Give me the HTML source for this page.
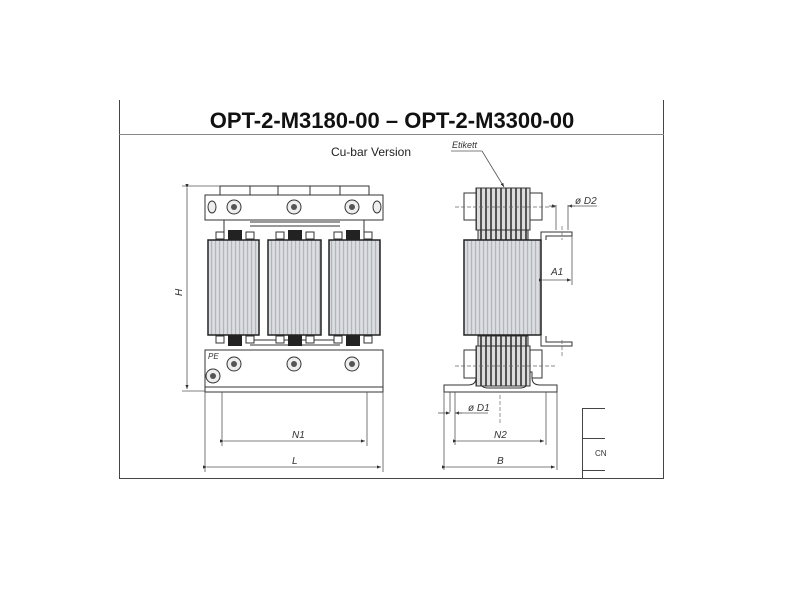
<!DOCTYPE html>
<html><head><style>
html,body{margin:0;padding:0;background:#fff;}
svg{display:block;}
text{font-family:"Liberation Sans",sans-serif;}
</style></head><body>
<svg width="800" height="600" viewBox="0 0 800 600" xmlns="http://www.w3.org/2000/svg">
<defs>
<linearGradient id="cg" x1="0" x2="1" y1="0" y2="0">
<stop offset="0" stop-color="#a9aeb5"/><stop offset="0.15" stop-color="#dcdee1"/><stop offset="0.35" stop-color="#c2c6cb"/><stop offset="0.55" stop-color="#e6e7e9"/><stop offset="0.75" stop-color="#bec2c7"/><stop offset="1" stop-color="#a5aab1"/>
</linearGradient>
<pattern id="st" width="4" height="10" patternUnits="userSpaceOnUse"><rect width="4" height="10" fill="url(#cg)"/><line x1="1" y1="0" x2="1" y2="10" stroke="#f0f1f2" stroke-width="0.8"/></pattern>
<pattern id="pk" width="5" height="10" patternUnits="userSpaceOnUse"><rect width="5" height="10" fill="#dcdcdc"/><rect x="0" width="2" height="10" fill="#555"/></pattern>
<marker id="a" markerWidth="6" markerHeight="6" refX="5" refY="3" orient="auto"><path d="M0,1 L5,3 L0,5z" fill="#333"/></marker>
</defs>
<g stroke="#444" fill="none">
<line x1="119.5" y1="100" x2="119.5" y2="478"/>
<line x1="663.5" y1="100" x2="663.5" y2="478"/>
<line x1="119" y1="134.5" x2="664" y2="134.5" stroke="#888"/>
<line x1="119" y1="478.5" x2="664" y2="478.5"/>
</g>
<text x="392" y="128" font-size="22" font-weight="bold" text-anchor="middle" fill="#111">OPT-2-M3180-00 – OPT-2-M3300-00</text>
<text x="371" y="156" font-size="12" text-anchor="middle" fill="#222">Cu-bar Version</text>

<g stroke="#333" stroke-width="1" fill="#fff">
<path d="M220,196 V186 H369 V196 M250,186 V196 M278,186 V196 M310,186 V196 M340,186 V196" fill="none"/>
<rect x="205" y="195" width="178" height="25"/>
<rect x="205" y="350" width="178" height="37"/>
<rect x="205" y="387" width="178" height="5"/>
<line x1="224" y1="220" x2="224" y2="240"/><line x1="364" y1="220" x2="364" y2="240"/>
<line x1="250" y1="222" x2="340" y2="222"/><line x1="250" y1="226" x2="340" y2="226"/>
<line x1="250" y1="340" x2="340" y2="340"/><line x1="250" y1="345" x2="340" y2="345"/>
</g>
<g stroke="#222" stroke-width="1.5">
<rect x="208" y="240" width="51" height="95" fill="url(#st)"/>
<rect x="268" y="240" width="53" height="95" fill="url(#st)"/>
<rect x="329" y="240" width="51" height="95" fill="url(#st)"/>
</g>
<g fill="#222">
<rect x="228" y="230" width="14" height="10"/><rect x="288" y="230" width="14" height="10"/><rect x="346" y="230" width="14" height="10"/>
<rect x="228" y="335" width="14" height="11"/><rect x="288" y="335" width="14" height="11"/><rect x="346" y="335" width="14" height="11"/>
</g>
<g stroke="#333" fill="#fff">
<rect x="216" y="232" width="8" height="7"/><rect x="246" y="232" width="8" height="7"/><rect x="276" y="232" width="8" height="7"/><rect x="306" y="232" width="8" height="7"/><rect x="334" y="232" width="8" height="7"/><rect x="364" y="232" width="8" height="7"/>
<rect x="216" y="336" width="8" height="7"/><rect x="246" y="336" width="8" height="7"/><rect x="276" y="336" width="8" height="7"/><rect x="306" y="336" width="8" height="7"/><rect x="334" y="336" width="8" height="7"/><rect x="364" y="336" width="8" height="7"/>
</g>
<g stroke="#333" fill="#eee">
<ellipse cx="212" cy="207" rx="4" ry="6"/><ellipse cx="377" cy="207" rx="4" ry="6"/>
<circle cx="234" cy="207" r="7"/><circle cx="294" cy="207" r="7"/><circle cx="352" cy="207" r="7"/>
<circle cx="234" cy="364" r="7"/><circle cx="294" cy="364" r="7"/><circle cx="352" cy="364" r="7"/>
<circle cx="213" cy="376" r="7"/>
</g>
<g fill="#555"><circle cx="234" cy="207" r="3"/><circle cx="294" cy="207" r="3"/><circle cx="352" cy="207" r="3"/><circle cx="234" cy="364" r="3"/><circle cx="294" cy="364" r="3"/><circle cx="352" cy="364" r="3"/><circle cx="213" cy="376" r="3"/></g>
<text x="208" y="359" font-size="8" font-style="italic" fill="#333">PE</text>
<g stroke="#555" stroke-width="0.8" fill="none">
<line x1="182" y1="186" x2="220" y2="186"/><line x1="182" y1="391" x2="205" y2="391"/>
<line x1="187" y1="188" x2="187" y2="389" marker-start="url(#a)" marker-end="url(#a)"/>
<line x1="205" y1="392" x2="205" y2="472"/><line x1="383" y1="392" x2="383" y2="472"/>
<line x1="222" y1="392" x2="222" y2="446"/><line x1="367" y1="392" x2="367" y2="446"/>
<line x1="224" y1="441" x2="365" y2="441" marker-start="url(#a)" marker-end="url(#a)"/>
<line x1="207" y1="467" x2="381" y2="467" marker-start="url(#a)" marker-end="url(#a)"/>
</g>
<text x="182" y="296" font-size="10" font-style="italic" fill="#333" transform="rotate(-90 182 296)">H</text>
<text x="292" y="438" font-size="10" font-style="italic" fill="#333">N1</text>
<text x="292" y="464" font-size="10" font-style="italic" fill="#333">L</text>

<g stroke="#333" fill="#fff">
<rect x="464" y="193" width="12" height="27"/><rect x="530" y="193" width="12" height="27"/>
<rect x="464" y="350" width="12" height="28"/><rect x="530" y="350" width="12" height="28"/>
<path d="M541,240 V232 H572 V236 H546 V240" />
<path d="M541,336 V346 H572 V342 H546 V336"/>
<path d="M444,385 H468 Q476,385 476,378 V372 H480 V380 Q480,388 488,388 H520 Q528,388 528,380 V372 H532 V378 Q532,385 540,385 H557 V392 H444 Z"/>
</g>
<rect x="476" y="188" width="54" height="42" fill="url(#pk)" stroke="#333"/>
<rect x="476" y="346" width="54" height="40" fill="url(#pk)" stroke="#333"/>
<rect x="478" y="230" width="50" height="10" fill="url(#pk)" stroke="#333"/>
<rect x="478" y="336" width="50" height="10" fill="url(#pk)" stroke="#333"/>
<rect x="464" y="240" width="77" height="95" fill="url(#st)" stroke="#222" stroke-width="1.5"/>
<g stroke="#666" stroke-width="0.7" fill="none" stroke-dasharray="4,2">
<line x1="455" y1="207" x2="556" y2="207"/><line x1="455" y1="366" x2="556" y2="366"/>
<line x1="562" y1="226" x2="562" y2="240"/><line x1="562" y1="340" x2="562" y2="356"/>
<line x1="500" y1="395" x2="500" y2="425"/>
</g>
<g stroke="#555" stroke-width="0.8" fill="none">
<line x1="556" y1="205" x2="556" y2="230"/><line x1="568" y1="205" x2="568" y2="230"/>
<line x1="549" y1="206" x2="556" y2="206" marker-end="url(#a)"/><line x1="575" y1="206" x2="568" y2="206" marker-end="url(#a)"/>
<line x1="568" y1="206" x2="597" y2="206"/>
<line x1="572" y1="236" x2="572" y2="285"/>
<line x1="543" y1="280" x2="571" y2="280" marker-start="url(#a)" marker-end="url(#a)"/>
<line x1="444" y1="392" x2="444" y2="470"/><line x1="557" y1="392" x2="557" y2="470"/>
<line x1="450" y1="392" x2="450" y2="412"/><line x1="455" y1="392" x2="455" y2="445"/>
<line x1="546" y1="392" x2="546" y2="445"/>
<line x1="438" y1="413" x2="450" y2="413" marker-end="url(#a)"/><line x1="462" y1="413" x2="455" y2="413" marker-end="url(#a)"/>
<line x1="455" y1="413" x2="488" y2="413"/>
<line x1="457" y1="441" x2="544" y2="441" marker-start="url(#a)" marker-end="url(#a)"/>
<line x1="446" y1="467" x2="555" y2="467" marker-start="url(#a)" marker-end="url(#a)"/>
<line x1="451" y1="151" x2="482" y2="151"/><line x1="482" y1="151" x2="504" y2="187" marker-end="url(#a)"/>
</g>
<text x="452" y="148" font-size="9" font-style="italic" fill="#333">Etikett</text>
<text x="575" y="204" font-size="10" font-style="italic" fill="#333">ø D2</text>
<text x="551" y="275" font-size="10" font-style="italic" fill="#333">A1</text>
<text x="468" y="411" font-size="10" font-style="italic" fill="#333">ø D1</text>
<text x="494" y="438" font-size="10" font-style="italic" fill="#333">N2</text>
<text x="497" y="464" font-size="10" font-style="italic" fill="#333">B</text>
<g stroke="#444" stroke-width="1" fill="none">
<line x1="582.5" y1="408" x2="582.5" y2="478"/>
<line x1="582" y1="408.5" x2="605" y2="408.5"/>
<line x1="582" y1="438.5" x2="605" y2="438.5"/>
<line x1="582" y1="470.5" x2="605" y2="470.5"/>
</g>
<text x="595" y="456" font-size="8" fill="#333">CN</text>
</svg>
</body></html>
